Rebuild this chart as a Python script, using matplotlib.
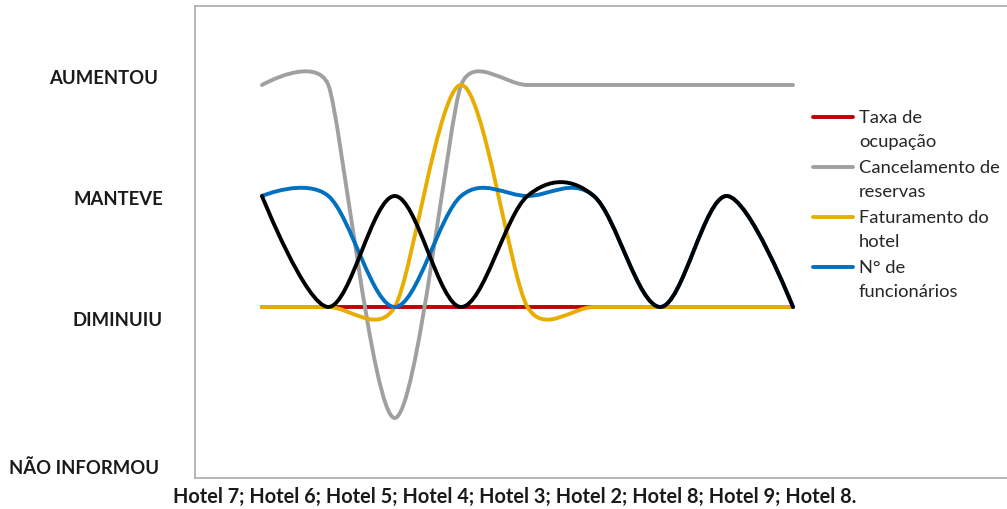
import matplotlib
matplotlib.use("Agg")
import matplotlib.pyplot as plt
import numpy as np
from matplotlib.path import Path
from matplotlib.patches import PathPatch
from matplotlib.lines import Line2D

plt.rcParams['font.family'] = ['Lato', 'DejaVu Sans']

hotels = ["Hotel 7", "Hotel 6", "Hotel 5", "Hotel 4", "Hotel 3",
          "Hotel 2", "Hotel 8", "Hotel 9", "Hotel 8"]
categories = ["NÃO INFORMOU", "DIMINUIU", "MANTEVE", "AUMENTOU"]

# 0 = não informou, 1 = diminuiu, 2 = manteve, 3 = aumentou
taxa_ocupacao = [1, 1, 1, 1, 1, 1, 1, 1, 1]
cancelamento = [3, 3, 0, 3, 3, 3, 3, 3, 3]
faturamento = [1, 1, 1, 3, 1, 1, 1, 1, 1]
funcionarios = [2, 2, 1, 2, 2, 2, 1, 2, 1]
outros = [2, 1, 2, 1, 2, 2, 1, 2, 1]

series = [
    ("Taxa de\nocupação", taxa_ocupacao, "#C00000"),
    ("Cancelamento de\nreservas", cancelamento, "#A0A0A0"),
    ("Faturamento do\nhotel", faturamento, "#E8AD00"),
    ("N° de\nfuncionários", funcionarios, "#0070C0"),
    (None, outros, "#000000"),
]

W, H = 1007, 510
fig = plt.figure(figsize=(W / 100, H / 100), dpi=100)
ax = fig.add_axes([195 / W, 1 - 478.5 / H, (W - 195) / W, 472 / H])
ax.set_xlim(-1.009, 11.224)
ax.set_ylim(-0.536, 3.716)
ax.set_xticks([])
ax.set_yticks([])
for side in ("left", "top", "bottom"):
    ax.spines[side].set_color("#B0B0B0")
    ax.spines[side].set_linewidth(1.3)
ax.spines["right"].set_visible(False)


def smooth_path(xs, ys):
    # excel-style smoothed line: cubic beziers, control arms clamped
    # to half of the neighbouring segment (measured in screen pixels)
    pts = ax.transData.transform(np.column_stack([xs, ys]))
    n = len(pts)
    before = [pts[i].copy() for i in range(n)]
    after = [pts[i].copy() for i in range(n)]
    for i in range(1, n - 1):
        p0, p1, p2 = pts[i - 1], pts[i], pts[i + 1]
        d01 = np.hypot(*(p1 - p0))
        d12 = np.hypot(*(p2 - p1))
        d02 = np.hypot(*(p2 - p0))
        f = 1 / 6
        if d02 / 6 >= d01 / 2 or d02 / 6 >= d12 / 2:
            f = min(d01, d12) / (2 * d02)
        before[i] = p1 - f * (p2 - p0)
        after[i] = p1 + f * (p2 - p0)
    verts = [pts[0]]
    codes = [Path.MOVETO]
    for i in range(n - 1):
        verts += [after[i], before[i + 1], pts[i + 1]]
        codes += [Path.CURVE4] * 3
    verts = ax.transData.inverted().transform(np.array(verts))
    return Path(verts, codes)


x = np.arange(len(hotels))
for z, (name, vals, color) in enumerate(series):
    patch = PathPatch(smooth_path(x, vals), facecolor="none", edgecolor=color,
                      linewidth=2.8, capstyle="round", joinstyle="round",
                      zorder=3 + z)
    ax.add_patch(patch)

# category labels on the left
label_pos = [(9, 468, "left"), (163, 320, "right"),
             (163, 200, "right"), (158, 79, "right")]
for cat, (px, py, ha) in zip(categories, label_pos):
    fig.text(px / W, 1 - py / H, cat, ha=ha, va="center",
             fontsize=13.3, fontweight="bold", color="#1a1a1a")

fig.text(515 / W, 1 - 497 / H, "; ".join(hotels) + ".", ha="center",
         va="center", fontsize=14.3, fontweight="bold", color="#1a1a1a")

# legend, handle next to the first line of each entry
for k, (name, vals, color) in enumerate(series[:4]):
    ly = 118 + 50 * k
    fig.add_artist(Line2D([813 / W, 853 / W], [1 - ly / H, 1 - ly / H],
                          color=color, linewidth=2.8, solid_capstyle="round"))
    fig.text(859 / W, 1 - (ly - 8) / H, name, ha="left", va="top",
             fontsize=13.2, color="#262626", linespacing=1.65)

fig.savefig("out.png", dpi=100)
